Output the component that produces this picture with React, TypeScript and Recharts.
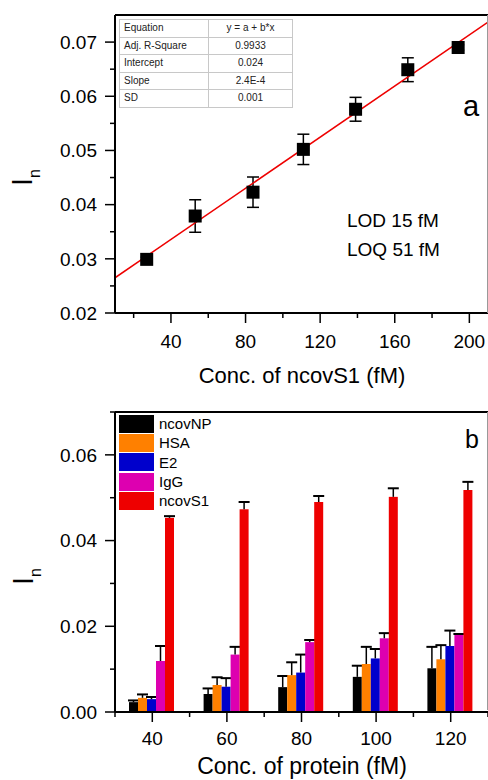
import React from 'react';
import { ComposedChart, Scatter, Line, XAxis, YAxis, ErrorBar, ReferenceLine, BarChart, Bar, Legend } from 'recharts';

const FONT = '"Liberation Sans", Arial, sans-serif';

// panel a: calibration of ncovS1
const concS1 = [27, 53, 84, 111, 139, 167, 194];
const signalS1 = [0.0299, 0.0379, 0.0423, 0.0502, 0.0576, 0.0649, 0.069];
const errS1 = [0.0004, 0.003, 0.0028, 0.0028, 0.0022, 0.0022, 0.0005];
const fitX = [10, 210];
const fitY = [0.0265, 0.0737];
const xTicksA = [20, 40, 60, 80, 100, 120, 140, 160, 180, 200];
const yTicksA = [0.02, 0.025, 0.03, 0.035, 0.04, 0.045, 0.05, 0.055, 0.06, 0.065, 0.07];
const fitRows = [
  ['Equation', 'y = a + b*x'],
  ['Adj. R-Square', '0.9933'],
  ['Intercept', '0.024'],
  ['Slope', '2.4E-4'],
  ['SD', '0.001'],
];

// panel b: selectivity
const proteinConc = ['40', '60', '80', '100', '120'];
const proteins = ['ncovNP', 'HSA', 'E2', 'IgG', 'ncovS1'];
const proteinColors = ['#000000', '#FF8000', '#0000CC', '#DD00B0', '#EE0000'];
const ncovNP = [0.0023, 0.0042, 0.0058, 0.0082, 0.0102];
const ncovNPErr = [0.0004, 0.0013, 0.0026, 0.0026, 0.005];
const hsa = [0.0033, 0.0063, 0.0086, 0.0112, 0.0123];
const hsaErr = [0.0008, 0.0018, 0.003, 0.004, 0.0033];
const e2 = [0.003, 0.0059, 0.0092, 0.0125, 0.0154];
const e2Err = [0.0005, 0.002, 0.0042, 0.0022, 0.0036];
const igg = [0.0119, 0.0134, 0.0163, 0.0172, 0.018];
const iggErr = [0.0035, 0.0018, 0.0005, 0.0012, 0.0002];
const ncovS1 = [0.0453, 0.0473, 0.049, 0.0502, 0.0518];
const ncovS1Err = [0.0004, 0.0017, 0.0014, 0.002, 0.0019];
const yTicksB = [0, 0.01, 0.02, 0.03, 0.04, 0.05, 0.06, 0.07];

const values = [ncovNP, hsa, e2, igg, ncovS1];
const errors = [ncovNPErr, hsaErr, e2Err, iggErr, ncovS1Err];

const pointsA = concS1.map((x, i) => ({ x, y: signalS1[i], err: errS1[i] }));
const fitLine = fitX.map((x, i) => ({ x, y: fitY[i] }));

const barData = proteinConc.map((conc, i) => {
  const row: any = { conc };
  proteins.forEach((p, k) => {
    row[p] = values[k][i];
    row[p + '_err'] = errors[k][i];
  });
  return row;
});

const isEven01 = (v: number) => Math.abs(v * 100 - Math.round(v * 100)) < 1e-6;

const TickXA = (props: any) => {
  const { x, y, payload } = props;
  const major = payload.value % 40 === 0;
  return (
    <g>
      <line x1={x} x2={x} y1={y} y2={y + (major ? 10 : 5)} stroke="#000" strokeWidth={1.5} />
      {major && (
        <text x={x} y={y + 35} textAnchor="middle" fontSize={19} fontFamily={FONT} fill="#000">
          {payload.value}
        </text>
      )}
    </g>
  );
};

const TickYA = (props: any) => {
  const { x, y, payload } = props;
  const major = isEven01(payload.value);
  return (
    <g>
      <line x1={x - (major ? 10 : 5)} x2={x} y1={y} y2={y} stroke="#000" strokeWidth={1.5} />
      {major && (
        <text x={x - 18} y={y} dy="0.36em" textAnchor="end" fontSize={19} fontFamily={FONT} fill="#000">
          {payload.value.toFixed(2)}
        </text>
      )}
    </g>
  );
};

const TickXB = (props: any) => {
  const { x, y, payload, index } = props;
  const half = payload.offset || 37.3;
  return (
    <g>
      <line x1={x} x2={x} y1={y} y2={y + 10} stroke="#000" strokeWidth={1.5} />
      <line x1={x - half} x2={x - half} y1={y} y2={y + 5} stroke="#000" strokeWidth={1.5} />
      {index === proteinConc.length - 1 && (
        <line x1={x + half} x2={x + half} y1={y} y2={y + 5} stroke="#000" strokeWidth={1.5} />
      )}
      <text x={x} y={y + 33} textAnchor="middle" fontSize={19} fontFamily={FONT} fill="#000">
        {payload.value}
      </text>
    </g>
  );
};

const TickYB = (props: any) => {
  const { x, y, payload } = props;
  const major = Math.round(payload.value * 100) % 2 === 0;
  return (
    <g>
      <line x1={x - (major ? 10 : 5)} x2={x} y1={y} y2={y} stroke="#000" strokeWidth={1.5} />
      {major && (
        <text x={x - 18} y={y} dy="0.36em" textAnchor="end" fontSize={19} fontFamily={FONT} fill="#000">
          {payload.value.toFixed(2)}
        </text>
      )}
    </g>
  );
};

const Square = (props: any) => {
  const { cx, cy } = props;
  return <rect x={cx - 6.5} y={cy - 6.5} width={13} height={13} fill="#000" />;
};

// bar with a one-sided (upper) error bar, scaled from the bar's own height
const barWithErr = (key: string) => (props: any) => {
  const { x, y, width, height, fill, payload } = props;
  const v = payload[key];
  const e = payload[key + '_err'];
  const ePx = v ? (height / v) * e : 0;
  const cx = x + width / 2;
  return (
    <g>
      <rect x={x} y={y} width={width} height={height} fill={fill} />
      <line x1={cx} x2={cx} y1={y} y2={y - ePx} stroke="#000" strokeWidth={1.5} />
      <line x1={cx - 5.5} x2={cx + 5.5} y1={y - ePx} y2={y - ePx} stroke="#000" strokeWidth={2} />
    </g>
  );
};

const LegendBox = (props: any) => {
  const items = [...(props.payload || [])].sort(
    (a: any, b: any) => proteins.indexOf(a.value) - proteins.indexOf(b.value)
  );
  return (
    <div style={{ fontFamily: FONT }}>
      {items.map((p: any) => (
        <div key={p.value} style={{ display: 'flex', alignItems: 'center', height: 19.3 }}>
          <div style={{ width: 35, height: 18, background: p.color }} />
          <span style={{ marginLeft: 5, fontSize: 15, color: '#000' }}>{p.value}</span>
        </div>
      ))}
    </div>
  );
};

const YTitle = ({ x, y }: { x: number; y: number }) => (
  <text transform={`translate(${x},${y}) rotate(-90)`} fontFamily={FONT} fontSize={29} fill="#000">
    I
    <tspan fontSize={16} dy={8}>n</tspan>
  </text>
);

const cellStyle: React.CSSProperties = {
  border: '1px solid #c8c8c8',
  padding: '0 4px',
  height: 16.5,
  lineHeight: '16px',
  whiteSpace: 'nowrap',
};

export default function App() {
  return (
    <div style={{ position: 'absolute', left: 0, top: 0, width: 488, height: 780, background: '#fff', overflow: 'hidden' }}>
      <div style={{ position: 'relative', width: 488, height: 390 }}>
        <ComposedChart width={488} height={390} margin={{ top: 15, right: 0, left: 0, bottom: 0 }}>
          <XAxis
            type="number"
            dataKey="x"
            domain={[10, 210]}
            ticks={xTicksA}
            allowDataOverflow
            interval={0}
            height={77}
            tickSize={0}
            tickMargin={0}
            tickLine={false}
            tick={<TickXA />}
            axisLine={{ stroke: '#000', strokeWidth: 2 }}
          />
          <YAxis
            type="number"
            domain={[0.02, 0.075]}
            ticks={yTicksA}
            allowDataOverflow
            interval={0}
            width={115}
            tickSize={0}
            tickMargin={0}
            tickLine={false}
            tick={<TickYA />}
            axisLine={{ stroke: '#000', strokeWidth: 2 }}
          />
          <ReferenceLine y={0.075} stroke="#000" strokeWidth={2} />
          <Scatter data={pointsA} dataKey="y" shape={<Square />} isAnimationActive={false}>
            <ErrorBar dataKey="err" direction="y" width={6} stroke="#000" strokeWidth={1.5} />
          </Scatter>
          <Line data={fitLine} dataKey="y" stroke="#EE0000" strokeWidth={1.5} dot={false} isAnimationActive={false} />
        </ComposedChart>
        <table
          style={{
            position: 'absolute',
            left: 119,
            top: 19,
            width: 174,
            borderCollapse: 'collapse',
            border: '1.5px solid #999',
            fontFamily: FONT,
            fontSize: 10,
            color: '#222',
            background: '#fff',
          }}
        >
          <tbody>
            {fitRows.map((r) => (
              <tr key={r[0]}>
                <td style={{ ...cellStyle, width: 80 }}>{r[0]}</td>
                <td style={{ ...cellStyle, textAlign: 'center' }}>{r[1]}</td>
              </tr>
            ))}
          </tbody>
        </table>
        <svg width={488} height={390} style={{ position: 'absolute', left: 0, top: 0, pointerEvents: 'none' }}>
          <line x1={487.5} x2={487.5} y1={15} y2={313} stroke="#999" strokeWidth={1} />
          <text x={463} y={116} fontFamily={FONT} fontSize={29} fill="#000">a</text>
          <text x={347} y={227} fontFamily={FONT} fontSize={19} fill="#000">LOD 15 fM</text>
          <text x={347} y={256} fontFamily={FONT} fontSize={19} fill="#000">LOQ 51 fM</text>
          <text x={302} y={383} textAnchor="middle" fontFamily={FONT} fontSize={22} fill="#000">Conc. of ncovS1 (fM)</text>
          <YTitle x={32} y={186} />
        </svg>
      </div>
      <div style={{ position: 'relative', width: 488, height: 390 }}>
        <BarChart
          width={488}
          height={390}
          data={barData}
          margin={{ top: 22, right: 0, left: 0, bottom: 0 }}
          barGap={0}
          barCategoryGap={14}
        >
          <XAxis
            dataKey="conc"
            height={68}
            interval={0}
            tickSize={0}
            tickMargin={0}
            tickLine={false}
            tick={<TickXB />}
            axisLine={{ stroke: '#000', strokeWidth: 2 }}
          />
          <YAxis
            type="number"
            domain={[0, 0.07]}
            ticks={yTicksB}
            allowDataOverflow
            interval={0}
            width={115}
            tickSize={0}
            tickMargin={0}
            tickLine={false}
            tick={<TickYB />}
            axisLine={{ stroke: '#000', strokeWidth: 2 }}
          />
          <ReferenceLine y={0.07} stroke="#000" strokeWidth={2} />
          <Legend
            layout="horizontal"
            align="center"
            verticalAlign="middle"
            content={<LegendBox />}
            wrapperStyle={{ left: 119, top: 24, width: 'auto' }}
          />
          {proteins.map((p, k) => (
            <Bar key={p} dataKey={p} name={p} fill={proteinColors[k]} shape={barWithErr(p)} isAnimationActive={false} />
          ))}
        </BarChart>
        <svg width={488} height={390} style={{ position: 'absolute', left: 0, top: 0, pointerEvents: 'none' }}>
          <line x1={487.5} x2={487.5} y1={22} y2={320} stroke="#999" strokeWidth={1} />
          <text x={465} y={58} fontFamily={FONT} fontSize={25} fill="#000">b</text>
          <text x={302} y={384} textAnchor="middle" fontFamily={FONT} fontSize={23} fill="#000">Conc. of protein (fM)</text>
          <YTitle x={33} y={195} />
        </svg>
      </div>
    </div>
  );
}
